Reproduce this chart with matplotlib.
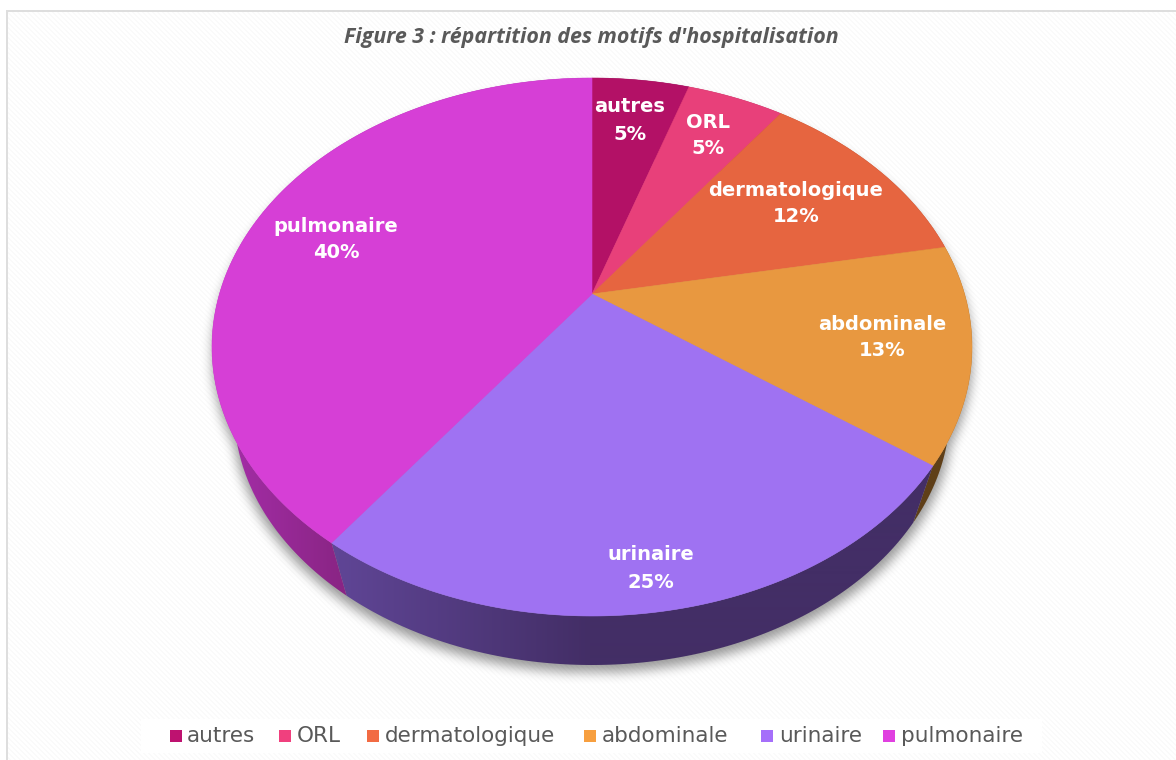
import numpy as np
import matplotlib
matplotlib.use("Agg")
import matplotlib.pyplot as plt
from matplotlib.colors import to_rgb
from matplotlib.patches import Rectangle, Polygon

# ---- data -------------------------------------------------------------
categories = ["autres", "ORL", "dermatologique", "abdominale", "urinaire", "pulmonaire"]
values = [5, 5, 12, 13, 25, 40]
percent_labels = ["5%", "5%", "12%", "13%", "25%", "40%"]
title = "Figure 3 : répartition des motifs d'hospitalisation"

# ---- styles -----------------------------------------------------------
top_colors = ["#B31166", "#E8407A", "#E66540", "#E89840", "#9F72F2", "#D63FD6"]
legend_colors = ["#BE1270", "#F0407E", "#F26B43", "#F79F3F", "#A56FFA", "#E040E0"]
side_from = ["#600838", "#7A2040", "#7A3520", "#5F3F18", "#5F4595", "#A32DA6"]
side_to = ["#600838", "#7A2040", "#7A3520", "#5F3F18", "#432E66", "#8A2585"]
side_grad_x = [(0, 1), (0, 1), (0, 1), (0, 1), (340, 590), (232, 340)]
label_pos = [(630, 121), (708, 136), (796, 204), (882, 338), (651, 569), (336, 240)]
legend_sq_x = [170, 279, 367, 584, 761, 883]
legend_tx_x = [187, 297, 385, 602, 779, 901]

W, H = 1176, 760
fig = plt.figure(figsize=(W / 100, H / 100), dpi=100)
ax = fig.add_axes([0, 0, 1, 1])
ax.set_xlim(0, W)
ax.set_ylim(H, 0)
ax.axis("off")

# background with fine diagonal stripes
yy, xx = np.mgrid[0:H, 0:W]
bg = np.where(((xx - yy) % 5) < 2, 0.978, 1.0)
bg[:10, :] = 1.0
bg[:, :6] = 1.0
bg[10:12, 6:] = 0.87
bg[10:, 6:8] = 0.87
ax.imshow(bg, cmap="gray", vmin=0, vmax=1, extent=(0, W, H, 0),
          interpolation="nearest", zorder=0, aspect="auto")

# geometry of the perspective disc
CX, CY, RX, RY = 592, 347, 380, 269
BCY, BRX, BRY = 410, 358, 255
Y0 = (294 - CY) / RY


def project(theta):
    """Clockwise angle from top on a disc -> normalised picture coordinates."""
    u, v = np.sin(theta), -np.cos(theta)
    d = 1 + Y0 * v
    return u * np.sqrt(1 - Y0 ** 2) / d, (v + Y0) / d


def top_xy(theta):
    X, Y = project(theta)
    return CX + RX * X, CY + RY * Y


def bottom_xy(theta):
    X, Y = project(theta)
    return CX + BRX * X, BCY + BRY * Y


# soft shadow
mask = ((xx - CX) / RX) ** 2 + ((yy - CY - 8) / RY) ** 2 <= 1
mask |= ((xx - CX) / (BRX + 2)) ** 2 + ((yy - BCY - 7) / BRY) ** 2 <= 1
blur = mask.astype(float)
kernel = np.ones(11) / 11
for _ in range(3):
    blur = np.apply_along_axis(lambda r: np.convolve(r, kernel, mode="same"), 0, blur)
    blur = np.apply_along_axis(lambda r: np.convolve(r, kernel, mode="same"), 1, blur)
rgba = np.zeros((H, W, 4))
rgba[..., 3] = blur * 0.40
ax.imshow(rgba, extent=(0, W, H, 0), interpolation="bilinear", zorder=1, aspect="auto")

# slices
fractions = np.array(values, dtype=float) / sum(values)
edges = np.concatenate([[0], np.cumsum(fractions)]) * 2 * np.pi

# side walls: a horizontal gradient clipped to each slice's wall
xs = np.arange(W) + 0.5
for i in range(len(values)):
    th = np.linspace(edges[i], edges[i + 1], max(int(values[i] * 8), 12))
    tx, ty = top_xy(th)
    bx, by = bottom_xy(th)
    outline = np.c_[np.r_[tx, bx[::-1]], np.r_[ty, by[::-1]]]
    g0, g1 = side_grad_x[i]
    f = np.clip((xs - g0) / (g1 - g0), 0, 1)[None, :, None]
    c0, c1 = np.array(to_rgb(side_from[i])), np.array(to_rgb(side_to[i]))
    grad = c0[None, None, :] + (c1 - c0)[None, None, :] * f
    im = ax.imshow(grad, extent=(0, W, H, 0), interpolation="bilinear", zorder=2, aspect="auto")
    patch = Polygon(outline, closed=True, transform=ax.transData, facecolor="none", edgecolor="none")
    ax.add_patch(patch)
    im.set_clip_path(patch)

# top faces
for i in range(len(values)):
    th = np.linspace(edges[i], edges[i + 1], max(int(values[i] * 8), 12))
    x, y = top_xy(th)
    ax.fill(np.r_[CX, x], np.r_[CY + RY * Y0, y], color=top_colors[i], lw=0.4, zorder=3)

# data labels
for name, pct, (lx, ly) in zip(categories, percent_labels, label_pos):
    ax.text(lx, ly - 14, name, color="white", fontsize=14, fontweight="bold",
            ha="center", va="center", family="DejaVu Sans", zorder=4)
    ax.text(lx, ly + 13, pct, color="white", fontsize=14, fontweight="bold",
            ha="center", va="center", family="DejaVu Sans", zorder=4)

# title
ax.text(591, 38, title, color="#595959", fontsize=15.4, fontweight="bold", style="italic",
        ha="center", va="center", family="Open Sans", zorder=4)

# legend
ax.add_patch(Rectangle((141, 719), 901, 34, facecolor="white", edgecolor="none", zorder=2))
for name, col, sx, tx in zip(categories, legend_colors, legend_sq_x, legend_tx_x):
    ax.add_patch(Rectangle((sx, 730), 12, 12, facecolor=col, edgecolor="none", zorder=3))
    ax.text(tx, 736, name, color="#595959", fontsize=15.5, ha="left", va="center",
            family="DejaVu Sans", zorder=4)

fig.savefig("out.png", dpi=100)
